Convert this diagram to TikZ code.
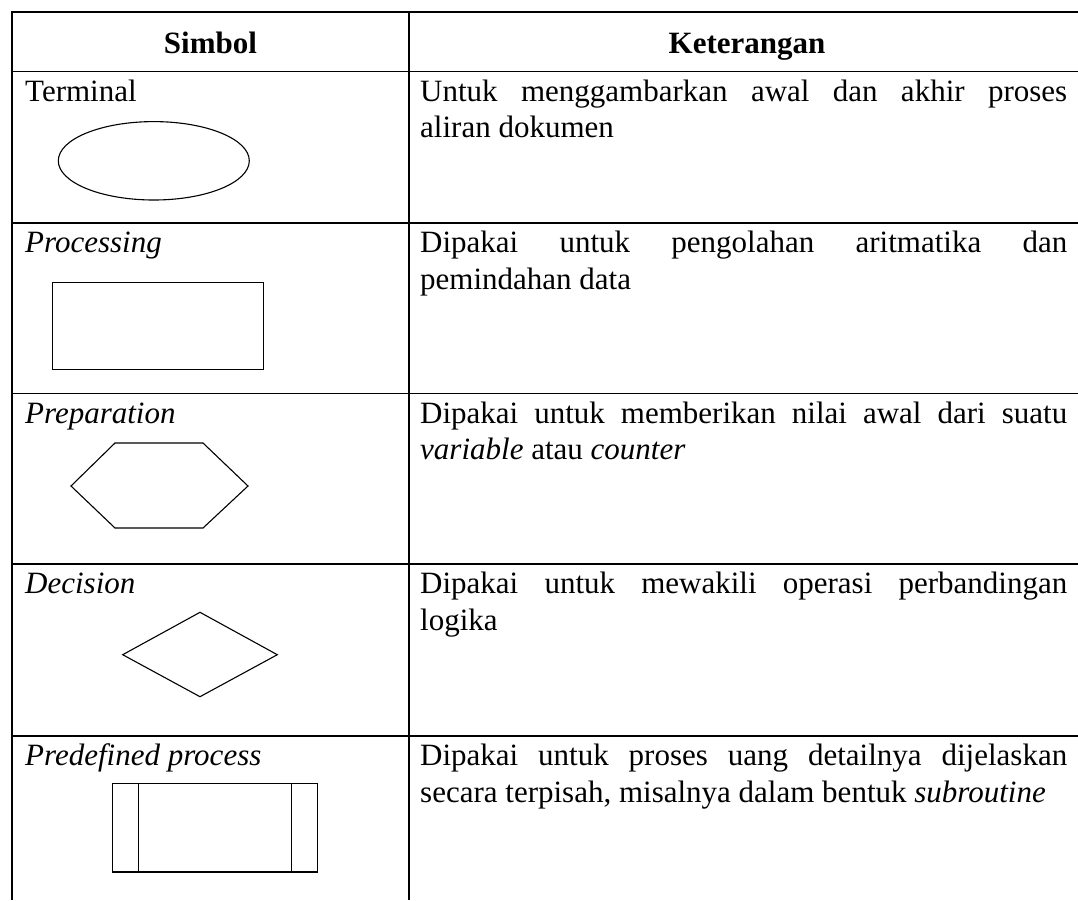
\documentclass[tikz,border=0pt]{standalone}
\usepackage{fontspec}
\setmainfont{Liberation Serif}
\begin{document}
\begin{tikzpicture}[x=1pt,y=-1pt,
  grid/.style={line width=1.4pt},
  shapeline/.style={line width=1.1pt},
  txt/.style={anchor=base west, inner sep=0pt, font=\fontsize{31}{36.7}\selectfont},
  head/.style={anchor=base, inner sep=0pt, font=\fontsize{31}{36.7}\selectfont\bfseries}]
\useasboundingbox (0,0) rectangle (1078,900);

% table rules
\draw[grid] (12,900) -- (12,12) -- (1078,12);
\draw[grid] (409,12) -- (409,900);
\foreach \yy in {71.5,223,393.5,564,736}
  \draw[grid] (12,\yy) -- (1078,\yy);

% header
\node[head] (hsym) at (210.5,53.3) {Simbol};
\node[head] (hket) at (747,53.3) {Keterangan};

% symbol names
\node[txt] (n1) at (25,101) {Terminal};
\node[txt] (n2) at (25,252.5) {\textit{Processing}};
\node[txt] (n3) at (25,423) {\textit{Preparation}};
\node[txt] (n4) at (25,593.5) {\textit{Decision}};
\node[txt] (n5) at (25,765.5) {\textit{Predefined process}};

% descriptions
\node[txt] (d1a) at (420,101) {\makebox[647pt][s]{Untuk menggambarkan awal dan akhir proses}};
\node[txt] (d1b) at (420,137.7) {aliran dokumen};
\node[txt] (d2a) at (420,252.5) {\makebox[647pt][s]{Dipakai untuk pengolahan aritmatika dan}};
\node[txt] (d2b) at (420,289.2) {pemindahan data};
\node[txt] (d3a) at (420,423) {\makebox[647pt][s]{Dipakai untuk memberikan nilai awal dari suatu}};
\node[txt] (d3b) at (420,459.7) {\textit{variable} atau \textit{counter}};
\node[txt] (d4a) at (420,593.5) {\makebox[647pt][s]{Dipakai untuk mewakili operasi perbandingan}};
\node[txt] (d4b) at (420,630.2) {logika};
\node[txt] (d5a) at (420,765.5) {\makebox[647pt][s]{Dipakai untuk proses uang detailnya dijelaskan}};
\node[txt] (d5b) at (420,802.2) {secara terpisah, misalnya dalam bentuk \textit{subroutine}};

% terminal symbol
\draw[shapeline] (153.8,160.8) ellipse [x radius=95.5, y radius=39.2];

% processing symbol
\draw[shapeline] (52.3,282.7) rectangle (263.3,369.3);

% preparation symbol
\draw[shapeline] (71,486) -- (115,443) -- (203,443) -- (248,486)
  -- (203,528) -- (115,528) -- cycle;

% decision symbol
\draw[shapeline] (122.7,654.7) -- (200,612.3) -- (277.3,654.7)
  -- (200,696.7) -- cycle;

% predefined process symbol
\draw[shapeline] (112.7,783.3) rectangle (317.3,872);
\draw[shapeline] (138.3,783.3) -- (138.3,872);
\draw[shapeline] (291.7,783.3) -- (291.7,872);
\end{tikzpicture}
\end{document}
